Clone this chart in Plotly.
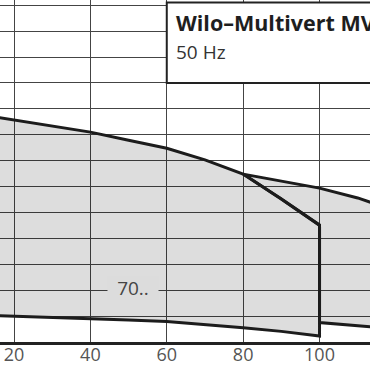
import plotly.graph_objects as go

# Flow Q (m3/h) sample points
q_main = [10, 20, 30, 40, 50, 60, 70, 80, 90, 100]
h_main_top = [88.0, 85.6, 83.3, 81.0, 77.9, 74.8, 70.3, 64.8, 55.2, 45.1]
h_main_bot = [10.4, 10.0, 9.5, 9.0, 8.5, 7.9, 6.8, 5.5, 4.1, 2.3]

q_next_top = [80, 90, 100, 110, 120]
h_next_top = [64.8, 62.1, 59.4, 55.6, 50.5]
q_next_bot = [100, 110, 120]
h_next_bot = [7.5, 6.3, 5.0]

x_ticks = [20, 40, 60, 80, 100]
title = "Wilo–Multivert MVI 70.."
subtitle = "50 Hz"
region_label = "70.."

FILL = "rgba(0,0,0,0.135)"
LINE = "#1c1c1c"
FONT = "Open Sans"
XR = [16.33, 113.22]

fig = go.Figure()

# main region polygon
px = q_main + [q_main[-1]] + q_main[::-1]
py = h_main_top + [h_main_bot[-1]] + h_main_bot[::-1]
fig.add_trace(go.Scatter(x=px, y=py, mode="lines", fill="toself", fillcolor=FILL,
                         line=dict(color=LINE, width=3), hoverinfo="skip", showlegend=False))

# next region (visible part, right of main region)
i80 = q_main.index(80)
qx = q_next_top + q_next_bot[::-1] + [100] + q_main[i80:][::-1]
qy = h_next_top + h_next_bot[::-1] + [h_main_top[-1]] + h_main_top[i80:][::-1]
fig.add_trace(go.Scatter(x=qx, y=qy, mode="lines", fill="toself", fillcolor=FILL,
                         line=dict(color=LINE, width=3), hoverinfo="skip", showlegend=False))

# invisible trace on label axis
fig.add_trace(go.Scatter(x=[x_ticks[0]], y=[0], xaxis="x2", mode="markers",
                         marker=dict(opacity=0), hoverinfo="skip", showlegend=False))

# title box
fig.add_shape(type="rect", xref="x", yref="y", x0=60, x1=130, y0=100, y1=131,
              fillcolor="white", line=dict(color="#222", width=2), layer="above")

fig.add_annotation(x=61.8, y=123.5, xref="x", yref="y", text="<b>" + title + "</b>",
                   showarrow=False, xanchor="left", yanchor="middle",
                   font=dict(family=FONT, size=21.5, color="#1e1e1e"))
fig.add_annotation(x=61.8, y=111.9, xref="x", yref="y", text=subtitle,
                   showarrow=False, xanchor="left", yanchor="middle",
                   font=dict(family=FONT, size=19, color="#333"))
fig.add_annotation(x=51.2, y=20.8, xref="x", yref="y", text=region_label,
                   showarrow=False, xanchor="center", yanchor="middle",
                   width=50, height=22, bgcolor="#dcdcdc", borderpad=0,
                   font=dict(family=FONT, size=19, color="#444"))

fig.update_layout(
    width=370, height=370, margin=dict(l=0, r=0, t=0, b=28),
    paper_bgcolor="white", plot_bgcolor="white", hovermode=False,
    xaxis=dict(range=XR, tickvals=x_ticks, showticklabels=False,
               showgrid=True, gridcolor="#444", gridwidth=1.3, zeroline=False,
               showline=True, linecolor="#222", linewidth=3, ticks="", automargin=False),
    xaxis2=dict(range=XR, overlaying="x", anchor="free", position=0.0, side="bottom",
                tickvals=x_ticks, ticktext=[str(v) for v in x_ticks],
                showgrid=False, zeroline=False, showline=False, ticks="", automargin=False,
                tickfont=dict(family=FONT, size=18, color="#555")),
    yaxis=dict(range=[0, 132], dtick=10, tick0=0, showgrid=True, gridcolor="#444",
               gridwidth=1.3, zeroline=False, showticklabels=False, ticks="", automargin=False),
)

fig.write_html("out.html", config={"displayModeBar": False},
               post_script="document.body.style.margin='0';document.body.style.padding='0';")
